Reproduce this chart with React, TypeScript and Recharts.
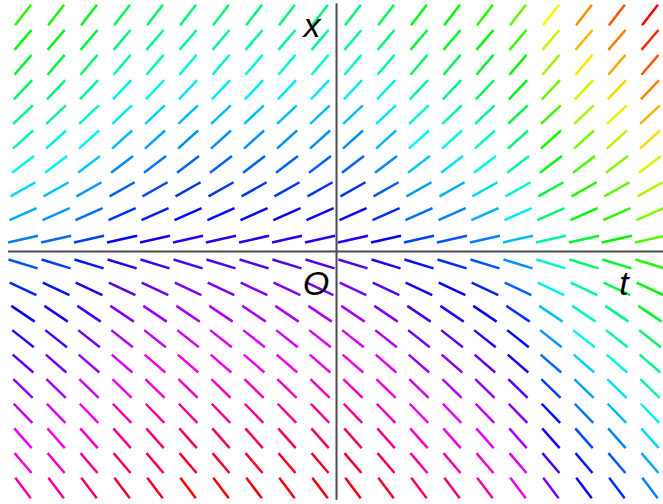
import { ScatterChart, Scatter, XAxis, YAxis, ReferenceLine, ReferenceDot } from 'recharts';

// direction field grid: t across, x from top to bottom
const tGrid = [
  -2, -1.789, -1.579, -1.368, -1.158, -0.947, -0.737, -0.526, -0.316, -0.105,
  0.105, 0.316, 0.526, 0.737, 0.947, 1.158, 1.368, 1.579, 1.789, 2,
];
const xGrid = [
  2, 1.789, 1.579, 1.368, 1.158, 0.947, 0.737, 0.526, 0.316, 0.105,
  -0.105, -0.316, -0.526, -0.737, -0.947, -1.158, -1.368, -1.579, -1.789, -2,
];
// slope dx/dt read for each row (about the same all along a row)
const rowSlopes = [
  1.7, 1.55, 1.54, 1.4, 1.25, 1.2, 1.02, 0.75, 0.58, 0.29,
  -0.4, -0.62, -0.89, -1.05, -1.15, -1.28, -1.37, -1.49, -1.55, -1.76,
];
const axisLabels = { vertical: 'x', horizontal: 't', origin: 'O' };

// colouring: hue of the top row per column, then shifts down the rows
const topHue = [110, 115, 125, 140, 145, 150, 150, 150, 150, 150, 150, 140, 125, 120, 110, 95, 60, 35, 20, 0];
const HUE_STEP = 11;
const SEG_LEN = 0.2;

const segments = xGrid.flatMap((x, row) =>
  tGrid.map((t, col) => {
    const m = rowSlopes[row];
    const k = SEG_LEN / 2 / Math.sqrt(1 + m * m);
    return {
      id: `${row}-${col}`,
      color: `hsl(${(topHue[col] + HUE_STEP * row) % 360}, 100%, 48%)`,
      points: [
        { t: t - k, x: x - k * m },
        { t: t + k, x: x + k * m },
      ],
    };
  })
);

const labelStyle = {
  fontFamily: 'Liberation Sans, Arial, sans-serif',
  fontStyle: 'italic',
  fontSize: 34,
  fill: '#000',
};

const textShape = (label: string) => (props: any) => (
  <text x={props.cx} y={props.cy} textAnchor="middle" style={labelStyle}>
    {label}
  </text>
);

export default function App() {
  return (
    <div style={{ position: 'absolute', left: 0, top: 0, background: '#fff' }}>
      <ScatterChart width={663} height={504} margin={{ top: 0, right: 0, bottom: 0, left: 0 }}>
        <XAxis type="number" dataKey="t" domain={[-2.147, 2.083]} hide allowDataOverflow />
        <YAxis type="number" dataKey="x" domain={[-2.135, 2.127]} hide allowDataOverflow />
        <ReferenceLine
          segment={[{ x: -2.096, y: 0 }, { x: 2.083, y: 0 }]}
          stroke="#4a4a4a"
          strokeWidth={2}
          ifOverflow="visible"
        />
        <ReferenceLine
          segment={[{ x: 0, y: 2.1 }, { x: 0, y: -2.1 }]}
          stroke="#4a4a4a"
          strokeWidth={2}
          ifOverflow="visible"
        />
        {segments.map((s) => (
          <Scatter
            key={s.id}
            data={s.points}
            fill={s.color}
            line={{ stroke: s.color, strokeWidth: 2.5 }}
            shape={() => <g />}
            isAnimationActive={false}
          />
        ))}
        <ReferenceDot x={-0.156} y={1.814} r={0} shape={textShape(axisLabels.vertical)} ifOverflow="visible" />
        <ReferenceDot x={-0.131} y={-0.368} r={0} shape={textShape(axisLabels.origin)} ifOverflow="visible" />
        <ReferenceDot x={1.834} y={-0.368} r={0} shape={textShape(axisLabels.horizontal)} ifOverflow="visible" />
      </ScatterChart>
    </div>
  );
}
